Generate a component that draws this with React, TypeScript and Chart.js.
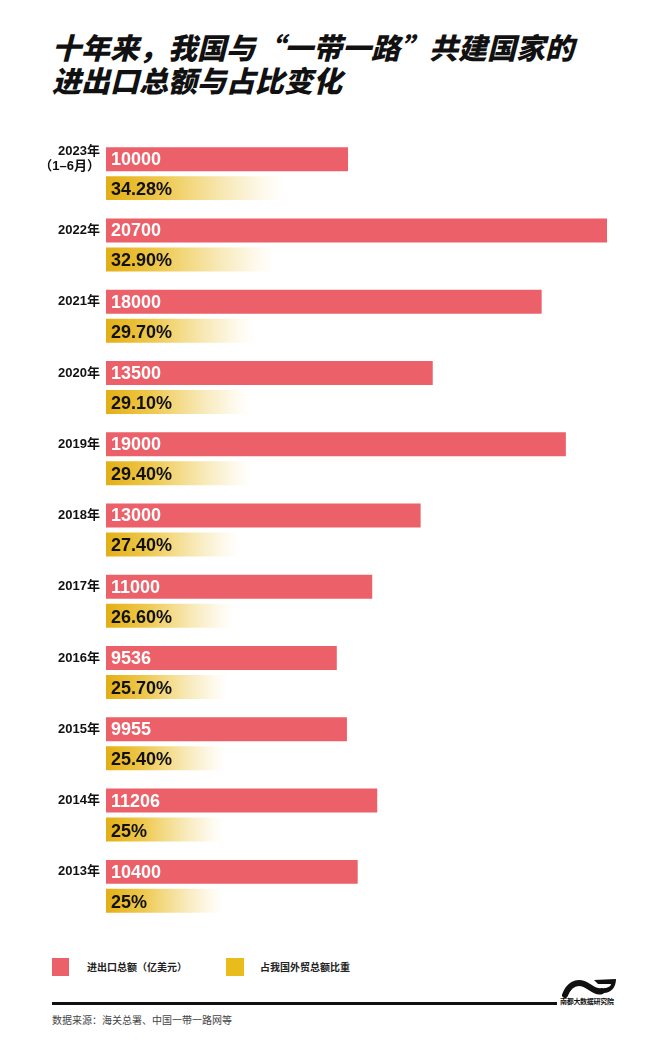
import React, { useEffect, useRef } from 'react';
import { Chart, registerables } from 'chart.js';

Chart.register(...registerables);

const categories: (string | string[])[] = [
  ['2023年', '（1–6月）'], '2022年', '2021年', '2020年', '2019年', '2018年',
  '2017年', '2016年', '2015年', '2014年', '2013年',
];
const tradeValues = [10000, 20700, 18000, 13500, 19000, 13000, 11000, 9536, 9955, 11206, 10400];
const shareValues = [34.28, 32.9, 29.7, 29.1, 29.4, 27.4, 26.6, 25.7, 25.4, 25, 25];
const shareLabels = ['34.28%', '32.90%', '29.70%', '29.10%', '29.40%', '27.40%', '26.60%', '25.70%', '25.40%', '25%', '25%'];
const seriesNames = ['进出口总额（亿美元）', '占我国外贸总额比重'];

const RED = '#ec6169';
const GOLD = '#e5b31c';
const LEGEND_GOLD = '#e9bb1b';
const NUM_FONT = '"Liberation Sans", Arial, "Noto Sans CJK SC", sans-serif';

const labelPlugin = {
  id: 'barLabels',
  afterDatasetsDraw(chart: any) {
    const ctx = chart.ctx;
    const m0 = chart.getDatasetMeta(0);
    const m1 = chart.getDatasetMeta(1);
    const left = chart.chartArea.left;
    ctx.save();
    m0.data.forEach((bar: any, i: number) => {
      const y = bar.y;
      const lab = categories[i];
      const lines = Array.isArray(lab) ? lab : [lab];
      ctx.font = `bold 13px ${NUM_FONT}`;
      ctx.fillStyle = '#111';
      ctx.textAlign = 'right';
      ctx.textBaseline = 'middle';
      const lh = 15;
      lines.forEach((ln, k) => {
        ctx.fillText(ln, left - 6, y + (k - (lines.length - 1) / 2) * lh);
      });
      ctx.textAlign = 'left';
      ctx.font = `bold 18px ${NUM_FONT}`;
      ctx.fillStyle = '#ffffff';
      ctx.fillText(String(tradeValues[i]), left + 5, y + 1);
    });
    m1.data.forEach((bar: any, i: number) => {
      ctx.textAlign = 'left';
      ctx.textBaseline = 'middle';
      ctx.font = `bold 18px ${NUM_FONT}`;
      ctx.fillStyle = '#111';
      ctx.fillText(shareLabels[i], left + 5, bar.y + 2);
    });
    ctx.restore();
  },
};

function goldGradient(c: any) {
  const chart = c.chart;
  const area = chart.chartArea;
  const sc = chart.scales && chart.scales.x2;
  if (!area || !sc || c.raw == null) return GOLD;
  const x0 = area.left;
  const x1 = sc.getPixelForValue(c.raw as number);
  if (!isFinite(x1) || x1 <= x0) return GOLD;
  const g = chart.ctx.createLinearGradient(x0, 0, x1, 0);
  g.addColorStop(0, '#e3ae17');
  g.addColorStop(0.12, '#e8b928');
  g.addColorStop(0.32, '#eec950');
  g.addColorStop(0.52, '#f4dc8c');
  g.addColorStop(0.72, '#f9edc4');
  g.addColorStop(0.9, '#fefaee');
  g.addColorStop(1, '#ffffff');
  return g;
}

function BarChart() {
  const ref = useRef<HTMLCanvasElement | null>(null);
  useEffect(() => {
    if (!ref.current) return;
    const chart = new Chart(ref.current, {
      type: 'bar',
      data: {
        labels: categories as any,
        datasets: [
          {
            label: seriesNames[0],
            data: tradeValues,
            backgroundColor: RED,
            xAxisID: 'x',
            categoryPercentage: 0.813,
            barPercentage: 0.828,
          },
          {
            label: seriesNames[1],
            data: shareValues,
            backgroundColor: goldGradient as any,
            xAxisID: 'x2',
            categoryPercentage: 0.813,
            barPercentage: 0.828,
          },
        ],
      },
      options: {
        indexAxis: 'y',
        responsive: false,
        animation: false,
        events: [],
        layout: { padding: { left: 106, right: 53, top: 0, bottom: 0 } },
        plugins: { legend: { display: false }, tooltip: { enabled: false } },
        scales: {
          x: { display: false, min: 0, max: Math.max(...tradeValues) },
          x2: { display: false, min: 7, max: 84 },
          y: { display: false },
        },
      },
      plugins: [labelPlugin],
    });
    return () => chart.destroy();
  }, []);
  return <canvas ref={ref} width={660} height={784} style={{ position: 'absolute', left: 0, top: 138 }} />;
}

export default function App() {
  const cjk = '"Noto Sans CJK SC", "Noto Sans", sans-serif';
  return (
    <div style={{ position: 'absolute', left: 0, top: 0, width: 660, height: 1045, background: '#fff', overflow: 'hidden', fontFamily: cjk }}>
      <div style={{ position: 'absolute', left: 52, top: 30, fontSize: 29, lineHeight: '33px', fontWeight: 900, fontStyle: 'italic', color: '#111', whiteSpace: 'nowrap', letterSpacing: 0 }}>
        <div>十年来，我国与“一带一路”共建国家的</div>
        <div>进出口总额与占比变化</div>
      </div>
      <BarChart />
      <div style={{ position: 'absolute', left: 52, top: 958, width: 17, height: 18, background: RED }} />
      <div style={{ position: 'absolute', left: 87, top: 960, fontSize: 10, lineHeight: '14px', fontWeight: 700, color: '#222' }}>{seriesNames[0]}</div>
      <div style={{ position: 'absolute', left: 226, top: 958, width: 18, height: 18, background: LEGEND_GOLD }} />
      <div style={{ position: 'absolute', left: 260, top: 960, fontSize: 10, lineHeight: '14px', fontWeight: 700, color: '#222' }}>{seriesNames[1]}</div>
      <div style={{ position: 'absolute', left: 52, top: 1002, width: 505, height: 3, background: '#111' }} />
      <svg style={{ position: 'absolute', left: 561, top: 976 }} width={56} height={22} viewBox="0 0 56 22">
        <path d="M4 19 C 8 9, 15 5, 23 8 C 30 11, 34 17, 41 15" stroke="#111" strokeWidth={6} fill="none" strokeLinecap="round" />
        <path d="M33 4 L 55 3 C 55 12, 49 18, 41 17 L 43 12 C 47 12, 50 10, 50 8 L 37 8 Z" fill="#111" />
      </svg>
      <div style={{ position: 'absolute', left: 560, top: 997, fontSize: 7, lineHeight: '9px', fontWeight: 700, color: '#111', whiteSpace: 'nowrap', letterSpacing: -0.3 }}>南都大数据研究院</div>
      <div style={{ position: 'absolute', left: 52, top: 1013, fontSize: 10, lineHeight: '14px', color: '#444', whiteSpace: 'nowrap' }}>数据来源：海关总署、中国一带一路网等</div>
    </div>
  );
}
